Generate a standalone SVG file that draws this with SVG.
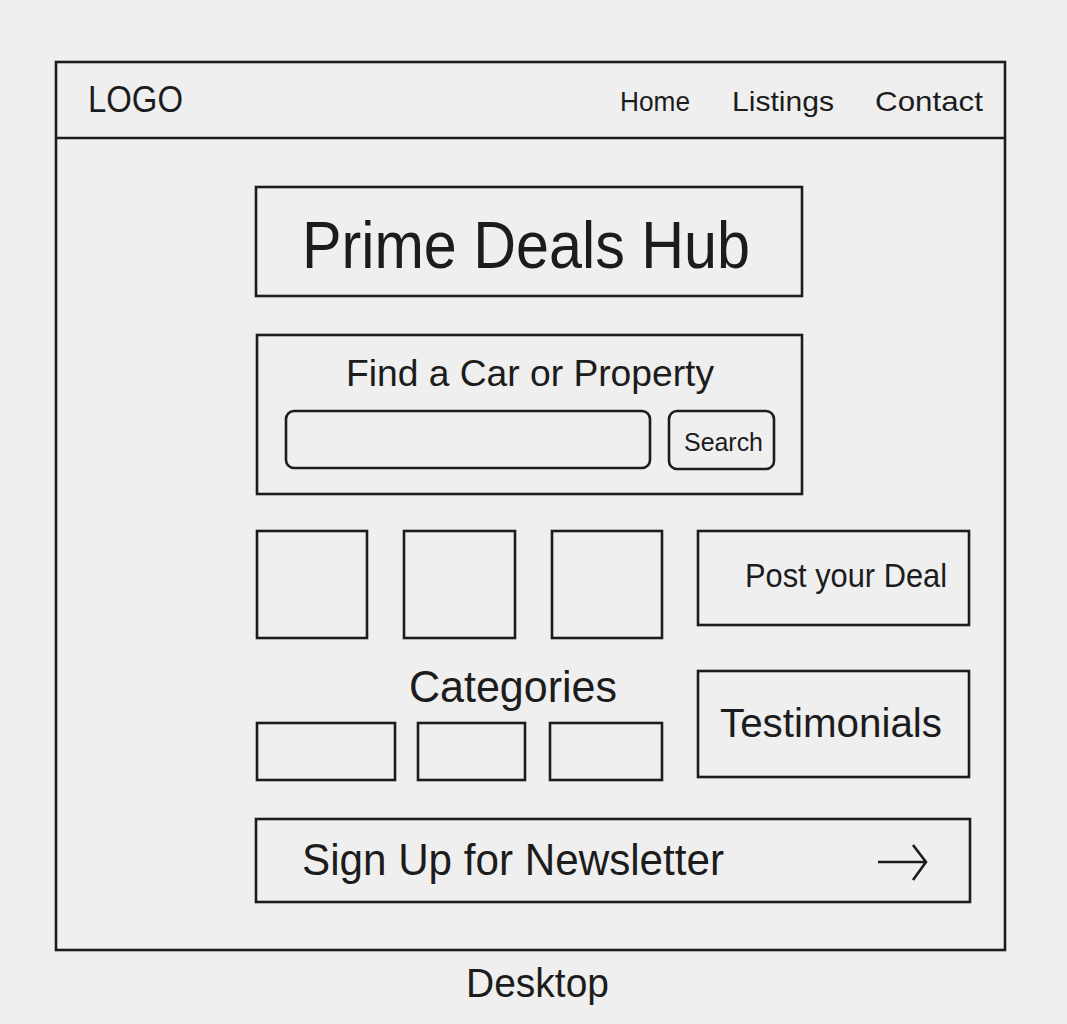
<svg xmlns="http://www.w3.org/2000/svg" width="1067" height="1024" viewBox="0 0 1067 1024">
<style>
.box{fill:none;stroke:#1c1c1c;stroke-width:2.6}
.t{font-family:"Liberation Sans",Arial,sans-serif;fill:#1c1c1c}
</style>
<rect width="1067" height="1024" fill="#efefef"/>
<g id="frame">
<rect class="box" x="56" y="62" width="949" height="888"/>
<line class="box" x1="56" y1="138" x2="1005" y2="138"/>
</g>
<g id="logo"><text class="t" x="88" y="112" font-size="36" textLength="95" lengthAdjust="spacingAndGlyphs">LOGO</text></g>
<g id="nav">
<text class="t" x="620" y="111" font-size="28" textLength="70" lengthAdjust="spacingAndGlyphs">Home</text>
<text class="t" x="732" y="111" font-size="28" textLength="102" lengthAdjust="spacingAndGlyphs">Listings</text>
<text class="t" x="875" y="111" font-size="28" textLength="108" lengthAdjust="spacingAndGlyphs">Contact</text>
</g>
<g id="title">
<rect class="box" x="256" y="187" width="546" height="109"/>
<text class="t" x="302" y="268" font-size="66" textLength="448" lengthAdjust="spacingAndGlyphs">Prime Deals Hub</text>
</g>
<g id="search">
<rect class="box" x="257" y="335" width="545" height="159"/>
<text class="t" x="346" y="386" font-size="37" textLength="368" lengthAdjust="spacingAndGlyphs">Find a Car or Property</text>
<rect class="box" x="286" y="411" width="364" height="57" rx="8"/>
<rect class="box" x="669" y="411" width="105" height="58" rx="8"/>
<text class="t" x="684" y="451" font-size="26" textLength="79" lengthAdjust="spacingAndGlyphs">Search</text>
</g>
<g id="listing1"><rect class="box" x="257" y="531" width="110" height="107"/></g>
<g id="listing2"><rect class="box" x="404" y="531" width="111" height="107"/></g>
<g id="listing3"><rect class="box" x="552" y="531" width="110" height="107"/></g>
<g id="post">
<rect class="box" x="698" y="531" width="271" height="94"/>
<text class="t" x="745" y="587" font-size="34" textLength="202" lengthAdjust="spacingAndGlyphs">Post your Deal</text>
</g>
<g id="categories">
<text class="t" x="409" y="702" font-size="45" textLength="208" lengthAdjust="spacingAndGlyphs">Categories</text>
<rect class="box" x="257" y="723" width="138" height="57"/>
<rect class="box" x="418" y="723" width="107" height="57"/>
<rect class="box" x="550" y="723" width="112" height="57"/>
</g>
<g id="testimonials">
<rect class="box" x="698" y="671" width="271" height="106"/>
<text class="t" x="720" y="737" font-size="41" textLength="222" lengthAdjust="spacingAndGlyphs">Testimonials</text>
</g>
<g id="newsletter">
<rect class="box" x="256" y="819" width="714" height="83"/>
<text class="t" x="302" y="875" font-size="44" textLength="422" lengthAdjust="spacingAndGlyphs">Sign Up for Newsletter</text>
<path class="box" d="M878 862 H926 M913 845 L926 862 L913 880"/>
</g>
<g id="connectors"/>
<g id="caption"><text class="t" x="466" y="997" font-size="41" textLength="143" lengthAdjust="spacingAndGlyphs">Desktop</text></g>
</svg>
